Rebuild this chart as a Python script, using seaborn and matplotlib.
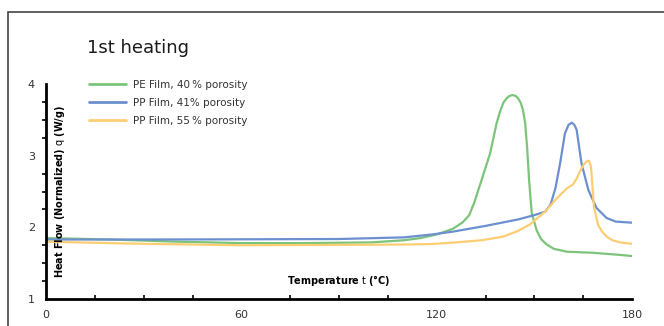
import matplotlib
matplotlib.use("Agg")
import matplotlib.pyplot as plt
import seaborn as sns
import pandas as pd
from matplotlib.patches import Rectangle
from matplotlib.ticker import MultipleLocator, FixedLocator

# ---- data ----
pe40_t = [0, 20, 40, 60, 80, 100, 110, 115, 120, 125, 128, 130, 131.5, 133.8, 136.4, 138.4, 139.5, 140.5,
          141.5, 142.4, 143.3, 144.2, 145, 145.8, 146.5, 147.2, 147.8, 148.4, 149.2, 150.7, 152,
          153.8, 156, 160, 168, 175, 180]
pe40_q = [1.85, 1.83, 1.80, 1.78, 1.78, 1.79, 1.82, 1.85, 1.90, 1.98, 2.07, 2.17, 2.34, 2.66, 3.03, 3.45,
          3.62, 3.74, 3.80, 3.835, 3.845, 3.835, 3.80, 3.74, 3.64, 3.45, 3.10, 2.65, 2.20, 1.96, 1.84,
          1.76, 1.70, 1.66, 1.645, 1.62, 1.60]

pp41_t = [0, 30, 60, 90, 110, 118.5, 125, 135, 145, 150, 153.4, 155, 156.5, 157.9, 159.4, 160.5,
          161.5, 162.3, 163, 164.5, 166.6, 169.1, 172.2, 175, 180]
pp41_q = [1.83, 1.83, 1.833, 1.837, 1.86, 1.90, 1.94, 2.02, 2.11, 2.17, 2.22, 2.32, 2.55, 2.89, 3.31,
          3.43, 3.46, 3.43, 3.36, 2.89, 2.52, 2.27, 2.13, 2.08, 2.065]

pp55_t = [0, 30, 60, 90, 110, 118.5, 126, 133.9, 140.4, 145, 148.6, 151, 153.8, 156, 157.9, 159.9,
          161.9, 163, 164, 165.2, 166.1, 166.8, 167.4, 168.3, 169.6, 171, 172.2, 174, 176.3, 180]
pp55_q = [1.80, 1.77, 1.75, 1.755, 1.76, 1.767, 1.79, 1.82, 1.87, 1.95, 2.04, 2.13, 2.24, 2.36, 2.45,
          2.54, 2.60, 2.68, 2.78, 2.88, 2.92, 2.93, 2.85, 2.29, 2.03, 1.93, 1.87, 1.82, 1.79, 1.77]

series_names = ["PE Film, 40\u2009% porosity", "PP Film, 41% porosity", "PP Film, 55\u2009% porosity"]
series_colors = ["#7cc47a", "#6c8fd0", "#fdcd72"]

x_ticks = [0, 60, 120, 180]
y_ticks = [1, 2, 3, 4]

rows = []
for name, ts, qs in zip(series_names, [pe40_t, pp41_t, pp55_t], [pe40_q, pp41_q, pp55_q]):
    for t, q in zip(ts, qs):
        rows.append({"t": t, "q": q, "series": name})
df = pd.DataFrame(rows)

sns.set_theme(style="white")
plt.rcParams["font.family"] = ["DejaVu Sans"]

fig = plt.figure(figsize=(6.64, 3.26), dpi=100)
ax = fig.add_axes([46 / 664, 1 - 299 / 326, 586 / 664, 215 / 326])

sns.lineplot(data=df, x="t", y="q", hue="series", hue_order=series_names,
             palette=series_colors, linewidth=1.6, ax=ax, sort=False, estimator=None)

ax.set_xlim(0, 180)
ax.set_ylim(1, 4)
ax.xaxis.set_major_locator(FixedLocator(x_ticks))
ax.yaxis.set_major_locator(FixedLocator(y_ticks))
ax.xaxis.set_minor_locator(MultipleLocator(15))
ax.yaxis.set_minor_locator(MultipleLocator(0.25))

for side in ["top", "right"]:
    ax.spines[side].set_visible(False)
for side in ["left", "bottom"]:
    ax.spines[side].set_color("black")
    ax.spines[side].set_linewidth(2)

ax.tick_params(axis="both", which="major", direction="out", length=6, width=1.5,
               color="black", labelsize=8, labelcolor="#333333", pad=2)
ax.tick_params(axis="x", which="minor", direction="in", length=3, width=1.2, color="black", bottom=True)
ax.tick_params(axis="y", which="minor", direction="out", length=3, width=1.2, color="black", left=True)

ax.set_xlabel("")
ax.set_ylabel("")
ax.text(0.5, 0.05, r"$\bf{Temperature}$ t $\bf{(°C)}$", transform=ax.transAxes,
        ha="center", va="bottom", fontsize=7, color="black")
ax.text(0.024, 0.5, r"$\bf{Heat\ Flow\ (Normalized)}$ q $\bf{(W/g)}$", transform=ax.transAxes,
        ha="center", va="center", rotation=90, fontsize=7, color="black")

leg = ax.legend(loc="upper left", bbox_to_anchor=(0.066, 1.04), frameon=False, fontsize=7.5,
                handlelength=3.6, handletextpad=0.6, labelspacing=0.78, borderaxespad=0)
for txt in leg.get_texts():
    txt.set_color("#333333")
for line in leg.get_lines():
    line.set_linewidth(2)

fig.text(87 / 664, 1 - 48 / 326, "1st heating", ha="left", va="center", fontsize=13,
         color="#1a1a1a")

fig.patches.append(Rectangle((8 / 664, -0.1), 1.2, 1 - 12 / 326 + 0.1, transform=fig.transFigure,
                             fill=False, edgecolor="#444444", linewidth=1.2))

fig.savefig("out.png", dpi=100)
